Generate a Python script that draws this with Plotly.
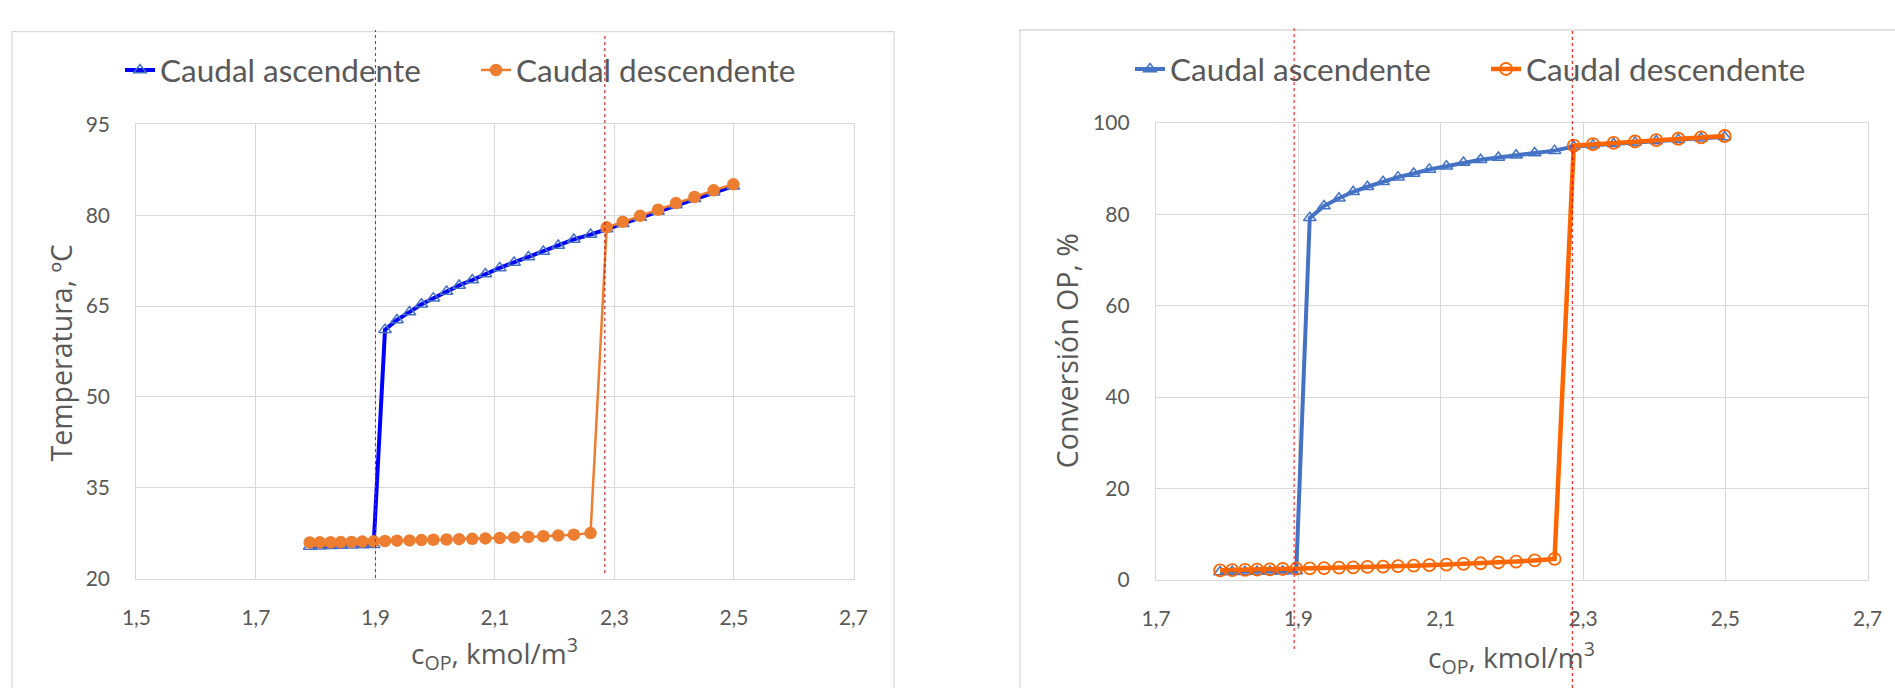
import plotly.graph_objects as go

# ---------------- data ----------------
c_op = [1.790, 1.807, 1.825, 1.842, 1.860, 1.878, 1.897, 1.916, 1.936, 1.957,
        1.977, 1.997, 2.019, 2.040, 2.062, 2.084, 2.108, 2.132, 2.156, 2.181,
        2.206, 2.232, 2.260, 2.287, 2.314, 2.343, 2.373, 2.403, 2.434, 2.466, 2.499]

temp_asc = [25.3, 25.35, 25.4, 25.45, 25.5, 25.55, 25.6, 61.1, 62.7, 64.0,
            65.3, 66.3, 67.4, 68.4, 69.3, 70.3, 71.3, 72.2, 73.1, 74.0,
            75.0, 76.0, 76.8, 77.7, 78.6, 79.6, 80.6, 81.7, 82.7, 83.8, 84.8]
temp_desc = [25.95, 25.98, 26.0, 26.02, 26.05, 26.1, 26.15, 26.2, 26.25, 26.3,
             26.35, 26.4, 26.45, 26.5, 26.55, 26.62, 26.7, 26.78, 26.88, 26.98,
             27.1, 27.25, 27.5, 78.0, 78.9, 79.9, 80.9, 82.0, 83.0, 84.1, 85.1]

conv_asc = [1.75, 1.78, 1.8, 1.83, 1.86, 1.9, 1.95, 79.2, 81.8, 83.5,
            84.9, 86.0, 87.1, 88.1, 88.9, 89.8, 90.5, 91.3, 91.9, 92.4,
            92.9, 93.4, 93.9, 94.8, 95.1, 95.4, 95.7, 96.0, 96.3, 96.6, 96.9]
conv_desc = [2.1, 2.15, 2.2, 2.27, 2.33, 2.4, 2.47, 2.53, 2.6, 2.68,
             2.76, 2.84, 2.93, 3.03, 3.13, 3.24, 3.36, 3.5, 3.65, 3.82,
             4.02, 4.28, 4.6, 95.0, 95.3, 95.6, 95.9, 96.2, 96.5, 96.8, 97.1]

series_names = ["Caudal ascendente", "Caudal descendente"]
x1_ticks = [1.5, 1.7, 1.9, 2.1, 2.3, 2.5, 2.7]
y1_ticks = [20, 35, 50, 65, 80, 95]
x2_ticks = [1.7, 1.9, 2.1, 2.3, 2.5, 2.7]
y2_ticks = [0, 20, 40, 60, 80, 100]
marker_lines_left = [1.9, 2.284]
marker_lines_right = [1.894, 2.285]

# ---------------- figure ----------------
W, H = 1895, 688
def px(v): return v / W
def py(v): return 1 - v / H

GRID = "#D9D9D9"
TXT = "#595959"
TICKFONT = dict(family="Lato", size=21, color=TXT)
LEGFONT = dict(family="Lato", size=31.5, color=TXT)
TITLEFONT = dict(family="Open Sans", size=28, color=TXT)

fig = go.Figure()

fig.add_trace(go.Scatter(
    x=c_op, y=temp_asc, name=series_names[0], mode="lines+markers",
    line=dict(color="#0000FF", width=4),
    marker=dict(symbol="triangle-up-open", size=11, color="#4472C4", line=dict(width=1.5)),
    xaxis="x", yaxis="y", legend="legend"))
fig.add_trace(go.Scatter(
    x=c_op, y=temp_desc, name=series_names[1], mode="lines+markers",
    line=dict(color="#ED7D31", width=2.5),
    marker=dict(symbol="circle", size=12.5, color="#ED7D31"),
    xaxis="x", yaxis="y", legend="legend2"))
fig.add_trace(go.Scatter(
    x=c_op, y=conv_asc, name=series_names[0], mode="lines+markers",
    line=dict(color="#4472C4", width=4),
    marker=dict(symbol="triangle-up-open", size=11, color="#4472C4", line=dict(width=1.5)),
    xaxis="x2", yaxis="y2", legend="legend3"))
fig.add_trace(go.Scatter(
    x=c_op, y=conv_desc, name=series_names[1], mode="lines+markers",
    line=dict(color="#FF6600", width=4.5),
    marker=dict(symbol="circle-open", size=12, color="#FF6600", line=dict(width=1.8)),
    xaxis="x2", yaxis="y2", legend="legend4"))

axis_common = dict(showgrid=True, gridcolor=GRID, gridwidth=1.3, showline=True,
                   linecolor=GRID, linewidth=1.3, mirror=True, zeroline=False,
                   ticks="", tickfont=TICKFONT, fixedrange=True, automargin=False)

fig.update_layout(
    template="none",
    width=W, height=H, margin=dict(l=0, r=0, t=0, b=0, pad=0, autoexpand=False),
    paper_bgcolor="white", plot_bgcolor="white",
    separators=",.",
    xaxis=dict(domain=[px(136.4), px(853.5)], range=[1.4999, 2.7001], tickvals=x1_ticks,
               tickformat=".1f", anchor="y", ticklabelstandoff=20, **axis_common),
    yaxis=dict(domain=[py(578.6), py(124.3)], range=[19.99, 95.01], tickvals=y1_ticks,
               anchor="x", ticklabelstandoff=21, **axis_common),
    xaxis2=dict(domain=[px(1156), px(1867.7)], range=[1.6999, 2.7001], tickvals=x2_ticks,
                tickformat=".1f", anchor="y2", ticklabelstandoff=20, **axis_common),
    yaxis2=dict(domain=[py(580), py(122.7)], range=[-0.01, 100.01], tickvals=y2_ticks,
                anchor="x2", ticklabelstandoff=21, **axis_common),
    showlegend=True,
)

def leg(xpix, ypix):
    return dict(x=px(xpix), y=py(ypix), xanchor="left", yanchor="middle",
                orientation="h", font=LEGFONT, bgcolor="rgba(0,0,0,0)", borderwidth=0)

fig.update_layout(legend=leg(120, 70), legend2=leg(476, 70),
                  legend3=leg(1130, 69), legend4=leg(1486, 69))

# chart cards
fig.add_shape(type="rect", xref="paper", yref="paper", x0=px(12), x1=px(894),
              y0=-0.05, y1=py(31.7), line=dict(color=GRID, width=1.3), layer="below")
fig.add_shape(type="rect", xref="paper", yref="paper", x0=px(1020), x1=1.05,
              y0=-0.05, y1=py(30), line=dict(color=GRID, width=1.3), layer="below")

# red dotted marker lines
fig.add_shape(type="line", xref="x", yref="paper", x0=marker_lines_left[0], x1=marker_lines_left[0],
              y0=py(578), y1=py(30), line=dict(color="#FF0000", width=1, dash="dot"))
fig.add_shape(type="line", xref="x", yref="paper", x0=marker_lines_left[1], x1=marker_lines_left[1],
              y0=py(573), y1=py(33), line=dict(color="#C00000", width=1, dash="dot"))
fig.add_shape(type="line", xref="x2", yref="paper", x0=marker_lines_right[0], x1=marker_lines_right[0],
              y0=py(649), y1=py(28.3), line=dict(color="#FF0000", width=1, dash="dot"))
fig.add_shape(type="line", xref="x2", yref="paper", x0=marker_lines_right[1], x1=marker_lines_right[1],
              y0=py(688), y1=py(30.7), line=dict(color="#FF0000", width=1, dash="dot"))

# axis titles
fig.add_annotation(text="Temperatura, ºC", xref="paper", yref="paper", x=px(60), y=py(352.5),
                   textangle=-90, showarrow=False, font=dict(family="Open Sans", size=28.5, color=TXT),
                   xanchor="center", yanchor="middle")
fig.add_annotation(text="Conversión OP, %", xref="paper", yref="paper", x=px(1066.7), y=py(350.5),
                   textangle=-90, showarrow=False, font=dict(family="Open Sans", size=28.5, color=TXT),
                   xanchor="center", yanchor="middle")
fig.add_annotation(text="c<sub>OP</sub>, kmol/m<sup>3</sup>", xref="paper", yref="paper",
                   x=px(494.7), y=py(653), showarrow=False, font=TITLEFONT,
                   xanchor="center", yanchor="middle")
fig.add_annotation(text="c<sub>OP</sub>, kmol/m<sup>3</sup>", xref="paper", yref="paper",
                   x=px(1511.8), y=py(657), showarrow=False, font=TITLEFONT,
                   xanchor="center", yanchor="middle")

fig.write_html("out.html", config={"displayModeBar": False},
               post_script="document.body.style.margin='0';document.body.style.overflow='hidden';")
